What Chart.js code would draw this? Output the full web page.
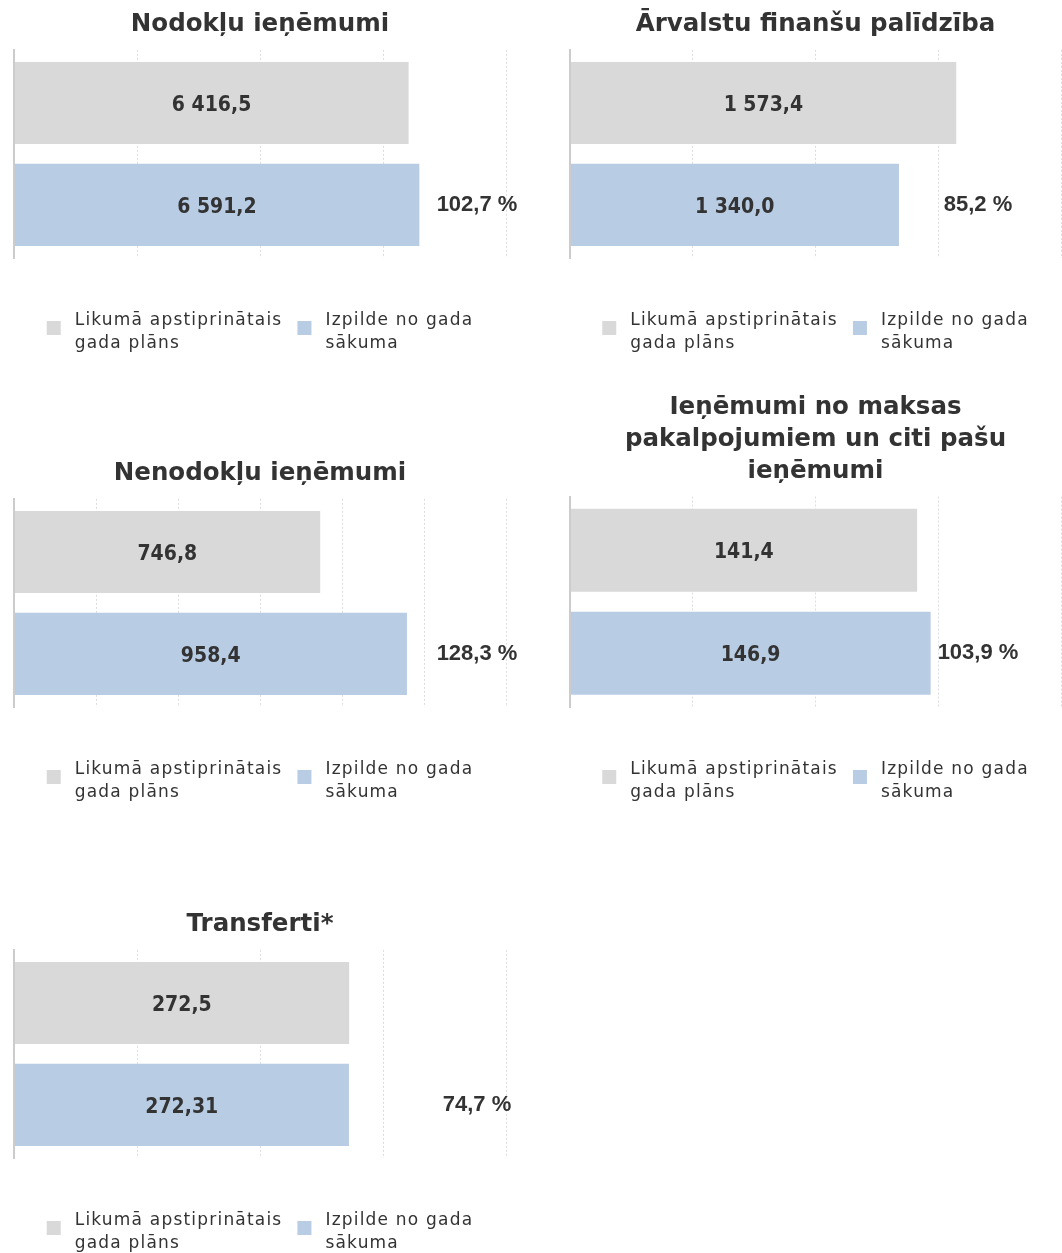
<!DOCTYPE html>
<html lang="lv">
<head>
<meta charset="utf-8">
<script src="https://cdn.jsdelivr.net/npm/chart.js@4.4.0/dist/chart.umd.min.js"></script>
<style>
  html, body { margin: 0; padding: 0; overflow: hidden; background: #fff; }
  #page { position: relative; width: 1062px; height: 1253px; overflow: hidden; }
  .cell { position: absolute; }
</style>
</head>
<body>
<div id="page"></div>
<script>
// Dati (milj. euro)
const titles = [
  'Nodokļu ieņēmumi',
  'Ārvalstu finanšu palīdzība',
  'Nenodokļu ieņēmumi',
  ['Ieņēmumi no maksas', 'pakalpojumiem un citi pašu', 'ieņēmumi'],
  'Transferti*'
];
const planValues = [6416.5, 1573.4, 746.8, 141.4, 272.5];
const actualValues = [6591.2, 1340.0, 958.4, 146.9, 272.31];
const percentLabels = ['102,7 %', '85,2 %', '128,3 %', '103,9 %', '74,7 %'];
const axisMax = [8000, 2000, 1200, 200, 400];
const axisStep = [2000, 500, 200, 50, 100];
const seriesNames = [['Likumā apstiprinātais', 'gada plāns'], ['Izpilde no gada', 'sākuma']];
const seriesColors = ['#d9d9d9', '#b8cce4'];

// kur katrs grafiks atrodas lapā
const cells = [
  { left: 0,   top: 0,   width: 531, height: 380, padRight: 25, pctShift: 29 },
  { left: 556, top: 0,   width: 506, height: 380, padRight: 1,  pctShift: 83 },
  { left: 0,   top: 449, width: 531, height: 380, padRight: 25, pctShift: 29 },
  { left: 556, top: 383, width: 506, height: 446, padRight: 1,  pctShift: 83 },
  { left: 0,   top: 900, width: 531, height: 380, padRight: 25, pctShift: 29 }
];

function hasFont(name) {
  const c = document.createElement('canvas').getContext('2d');
  const probe = '6 416,5 abcMW';
  c.font = 'bold 40px monospace';
  const a = c.measureText(probe).width;
  c.font = 'bold 40px "' + name + '", monospace';
  return c.measureText(probe).width !== a;
}
const condensed = hasFont('DejaVu Sans Condensed');

function fmt(v) {
  let s = v.toFixed(2);
  if (s.endsWith('0')) s = v.toFixed(1);
  const parts = s.split('.');
  const int = parts[0].replace(/\B(?=(\d{3})+(?!\d))/g, ' ');
  return int + ',' + parts[1];
}

// vērtības joslās un procenti pa labi
const barText = {
  id: 'barText',
  afterDatasetsDraw(chart, args, opts) {
    const ctx = chart.ctx;
    ctx.save();
    ctx.fillStyle = '#333';
    ctx.textAlign = 'center';
    ctx.textBaseline = 'middle';
    if (condensed) {
      ctx.font = 'bold 21px "DejaVu Sans Condensed"';
    } else {
      ctx.font = 'bold 20px "DejaVu Sans"';
      ctx.letterSpacing = '-0.6px';
    }
    chart.data.datasets.forEach((ds, i) => {
      const bar = chart.getDatasetMeta(i).data[0];
      ctx.fillText(fmt(ds.data[0]), (bar.base + bar.x) / 2, bar.y + 2.5);
    });
    ctx.letterSpacing = '0px';
    ctx.font = 'bold 22px "Liberation Sans"';
    const last = chart.getDatasetMeta(1).data[0];
    ctx.fillText(opts.text, chart.chartArea.right - opts.shift, last.y);
    ctx.restore();
  }
};

// leģenda ar divrindu tekstu
const legendBelow = {
  id: 'legendBelow',
  afterDraw(chart) {
    const ctx = chart.ctx;
    const area = chart.chartArea;
    ctx.save();
    ctx.font = '17px "DejaVu Sans"';
    ctx.letterSpacing = '1.2px';
    ctx.textBaseline = 'alphabetic';
    ctx.textAlign = 'left';
    const box = 14, gap = 14, itemGap = 15;
    const items = chart.data.datasets.map(ds => ({
      lines: ds.legendLines,
      color: ds.backgroundColor,
      w: Math.max(...ds.legendLines.map(l => ctx.measureText(l).width))
    }));
    const total = items.reduce((s, it) => s + box + gap + it.w, 0) + itemGap * (items.length - 1);
    let x = (area.left + area.right) / 2 - total / 2;
    items.forEach(it => {
      ctx.fillStyle = it.color;
      ctx.fillRect(x, area.bottom + 63, box, box);
      ctx.fillStyle = '#333';
      it.lines.forEach((l, k) => ctx.fillText(l, x + box + gap, area.bottom + 67 + k * 23));
      x += box + gap + it.w + itemGap;
    });
    ctx.restore();
  }
};

const page = document.getElementById('page');

titles.forEach((title, i) => {
  const cell = cells[i];
  const div = document.createElement('div');
  div.className = 'cell';
  div.style.left = cell.left + 'px';
  div.style.top = cell.top + 'px';
  div.style.width = cell.width + 'px';
  div.style.height = cell.height + 'px';
  const canvas = document.createElement('canvas');
  div.appendChild(canvas);
  page.appendChild(div);

  new Chart(canvas, {
    type: 'bar',
    data: {
      labels: [''],
      datasets: [
        {
          label: seriesNames[0].join(' '),
          legendLines: seriesNames[0],
          data: [planValues[i]],
          backgroundColor: seriesColors[0]
        },
        {
          label: seriesNames[1].join(' '),
          legendLines: seriesNames[1],
          data: [actualValues[i]],
          backgroundColor: seriesColors[1]
        }
      ]
    },
    options: {
      indexAxis: 'y',
      responsive: true,
      maintainAspectRatio: false,
      animation: false,
      categoryPercentage: 0.98,
      barPercentage: 0.805,
      layout: { padding: { left: 14, right: cell.padRight, top: 0, bottom: 122 } },
      scales: {
        x: {
          min: 0,
          max: axisMax[i],
          ticks: { display: false, stepSize: axisStep[i] },
          grid: { color: '#dedede', drawTicks: false },
          border: { display: false, dash: [2, 2] }
        },
        y: {
          ticks: { display: false },
          grid: { display: false, drawTicks: false },
          border: { display: true, color: '#cccccc', width: 2, z: 1 }
        }
      },
      plugins: {
        legend: { display: false },
        tooltip: { enabled: false },
        title: {
          display: true,
          text: title,
          color: '#333',
          font: { family: 'DejaVu Sans', size: 24.5, weight: 'bold', lineHeight: 1.3 },
          padding: { top: 9, bottom: 9 }
        },
        barText: { text: percentLabels[i], shift: cell.pctShift }
      }
    },
    plugins: [barText, legendBelow]
  });
});
</script>
</body>
</html>
